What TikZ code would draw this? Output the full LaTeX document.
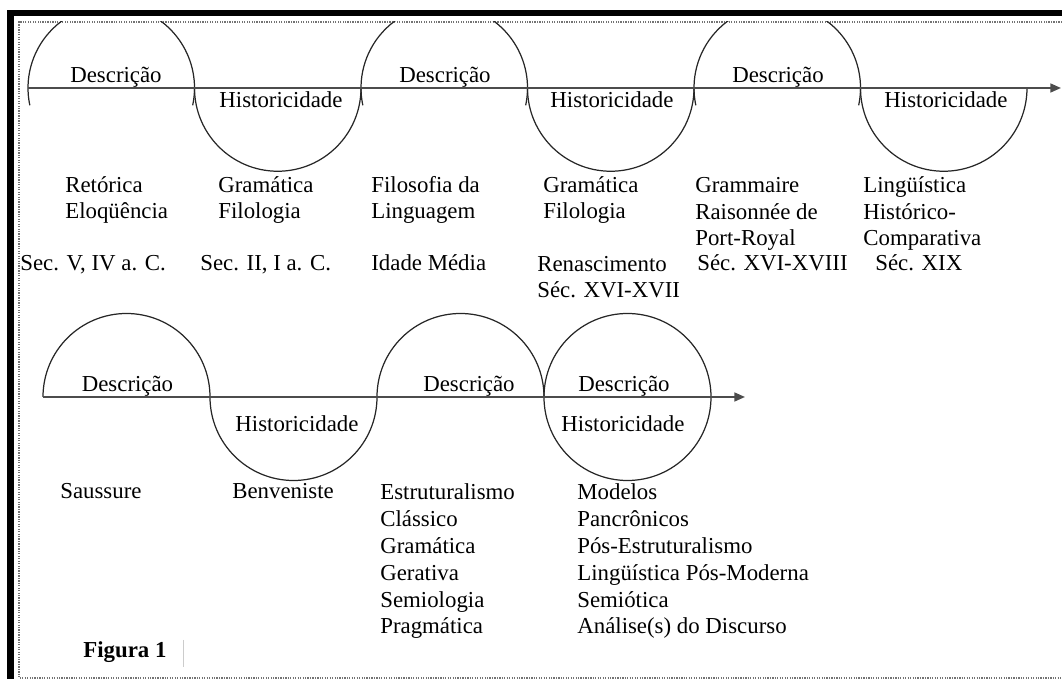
\documentclass[tikz,border=0pt]{standalone}
\usepackage{fontspec}
\setmainfont{Liberation Serif}
\usetikzlibrary{arrows.meta}
\tikzset{
	arcline/.style={line width=0.7pt, color=black!85},
	axisline/.style={line width=1.1pt, color=black!70, -{Triangle[length=6pt,width=5pt]}},
	lbl/.style={anchor=base, inner sep=0pt, font=\fontsize{13}{15.3}\selectfont},
	txt/.style={anchor=base west, align=left, inner sep=0pt, font=\fontsize{13}{15.3}\selectfont},
}

\begin{document}
\begin{tikzpicture}[x=0.02cm, y=0.02cm]
			%%%%% START %%%%%
			\useasboundingbox (0, 0) rectangle (1062, 679);
			
			% frame
			\fill[black] (7, 663) rectangle (1062, 669);
			\fill[black] (7, 0) rectangle (14, 669);
			\draw[line width=0.6pt, color=black!55, dash pattern=on 0.7pt off 0.7pt] (1062, 657) -- (19, 657) -- (19, 1) -- (1062, 1);
			
			% first line
			\begin{scope}
				\clip (0, 0) rectangle (1062, 657);
				\draw[arcline] (111.25, 591) ++(-12:83.25) arc[start angle=-12, end angle=192, radius=83.25];
				\draw[arcline] (444.25, 591) ++(-12:83.25) arc[start angle=-12, end angle=192, radius=83.25];
				\draw[arcline] (777.25, 591) ++(-12:83.25) arc[start angle=-12, end angle=192, radius=83.25];
			\end{scope}
			\draw[arcline] (277.75, 591) ++(180:83.25) arc[start angle=180, end angle=360, radius=83.25];
			\draw[arcline] (610.75, 591) ++(180:83.25) arc[start angle=180, end angle=360, radius=83.25];
			\draw[arcline] (943.75, 591) ++(180:83.25) arc[start angle=180, end angle=360, radius=83.25];
			\draw[axisline] (28, 591) -- (1061, 591);
			
			\node[lbl] (d1) at (116, 596) {Descrição};
			\node[lbl] (h1) at (281, 571) {Historicidade};
			\node[lbl] (d2) at (445, 596) {Descrição};
			\node[lbl] (h2) at (612, 571) {Historicidade};
			\node[lbl] (d3) at (778, 596) {Descrição};
			\node[lbl] (h3) at (946, 571) {Historicidade};
			
			% base = last line
			\node[txt] (retorica) at (65, 460) {Retórica\\Eloqüência};
			\node[txt] (gramatica1) at (218, 460) {Gramática\\Filologia};
			\node[txt] (filosofia) at (371, 460) {Filosofia da\\Linguagem};
			\node[txt] (gramatica2) at (543, 460) {Gramática\\Filologia};
			\node[txt] (grammaire) at (695, 433) {Grammaire\\Raisonnée de\\Port-Royal};
			\node[txt] (linguistica) at (863, 433) {Lingüística\\Histórico-\\Comparativa};
			
			\node[txt] (sec1) at (20, 408) {Sec. V, IV a. C.};
			\node[txt] (sec2) at (200, 408) {Sec. II, I a. C.};
			\node[txt] (sec3) at (371, 408) {Idade Média};
			\node[txt] (sec4) at (537, 381) {Renascimento\\Séc. XVI-XVII};
			\node[txt] (sec5) at (697, 408) {Séc. XVI-XVIII};
			\node[txt] (sec6) at (875, 408) {Séc. XIX};
			
			% second line
			\draw[arcline] (126.5, 282) ++(0:83.5) arc[start angle=0, end angle=180, radius=83.5];
			\draw[arcline] (460.5, 282) ++(0:83.5) arc[start angle=0, end angle=180, radius=83.5];
			\draw[arcline] (293.5, 282) ++(180:83.5) arc[start angle=180, end angle=360, radius=83.5];
			\draw[arcline] (627.5, 282) circle[radius=83.5];
			\draw[axisline] (43, 282) -- (745, 282);
			
			\node[lbl] (d4) at (127.5, 287) {Descrição};
			\node[lbl] (h4) at (297, 247) {Historicidade};
			\node[lbl] (d5) at (469, 287) {Descrição};
			\node[lbl] (d6) at (624, 287) {Descrição};
			\node[lbl] (h6) at (623, 247) {Historicidade};
			
			\node[txt] (saussure) at (60, 180) {Saussure};
			\node[txt] (benveniste) at (232, 180) {Benveniste};
			\node[txt] (estrut) at (380, 45) {Estruturalismo\\Clássico\\Gramática\\Gerativa\\Semiologia\\Pragmática};
			\node[txt] (modelos) at (577, 45) {Modelos\\Pancrônicos\\Pós-Estruturalismo\\Lingüística Pós-Moderna\\Semiótica\\Análise(s) do Discurso};
			
			\node[txt, font=\fontsize{13}{15.3}\selectfont\bfseries] (figura) at (83, 21) {Figura 1};
			\draw[line width=0.5pt, color=black!20] (183, 39) -- (183, 12);
			
			%%%%% END %%%%%
\end{tikzpicture}
\end{document}
